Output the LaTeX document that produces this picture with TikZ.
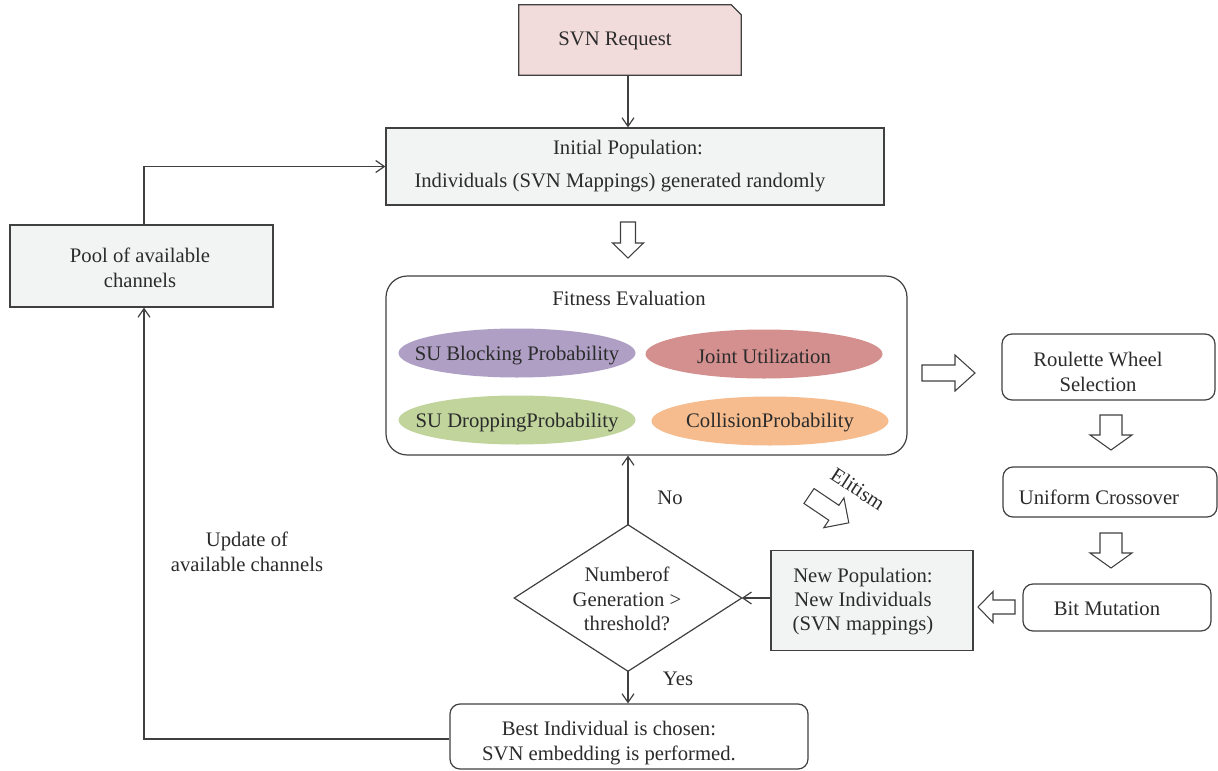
\documentclass[tikz,border=0pt]{standalone}
\usepackage{fontspec}
\setmainfont{Liberation Serif}
\usetikzlibrary{arrows.meta,backgrounds,calc,shapes.geometric}

\definecolor{linegray}{HTML}{404040}
\definecolor{textgray}{HTML}{2B2B2B}
\definecolor{boxgray}{HTML}{F2F4F3}
\definecolor{reqpink}{HTML}{F2DCDB}
\definecolor{elpurple}{HTML}{AF9FC5}
\definecolor{elred}{HTML}{D4908F}
\definecolor{elgreen}{HTML}{C0D49C}
\definecolor{elorange}{HTML}{F6BC8E}

% hollow block arrow: x, y, angle, length, shaft half-width, head half-width, head length
\newcommand\blockarrow[7]{%
  \draw[hollowarrow, shift={(#1,#2)}, rotate=#3]
    (0,-#5) -- ({#4-#7},-#5) -- ({#4-#7},-#6) -- (#4,0) -- ({#4-#7},#6) -- ({#4-#7},#5) -- (0,#5) -- cycle;}

\tikzset{
  every node/.style={text=textgray, font=\fontsize{15.5pt}{18.5pt}\selectfont},
  line/.style={draw=linegray, line width=0.9pt},
  arr/.style={line, -{Straight Barb[length=6.5pt,width=9pt]}},
  hollowarrow/.style={draw=linegray, line width=0.8pt, fill=white, line join=miter},
  graybox/.style={rectangle, line, fill=boxgray, inner sep=0pt},
  roundbox/.style={rectangle, line, fill=white, rounded corners=7.5pt, inner sep=0pt},
  crit/.style={ellipse, inner sep=0pt, minimum width=177.75pt, minimum height=36.75pt},
  txt/.style={align=center, inner sep=0pt},
}

\begin{document}
\begin{tikzpicture}[x=0.75pt, y=-0.75pt]
\useasboundingbox (0,0) rectangle (1218,771);

% request box with a cut corner
\node[rectangle, minimum width=166.5pt, minimum height=52.5pt, inner sep=0pt] (req) at (630,40) {};
\begin{scope}[on background layer]
  \draw[line, fill=reqpink] (req.south west) |- ($(req.north east)+(-10,0)$)
    -- ($(req.north east)+(0,10)$) |- cycle;
\end{scope}
\node[txt] (reqtxt) at (615,41) {SVN Request};

% initial population
\node[graybox, minimum width=373.5pt, minimum height=57.75pt] (init) at (635,166.5) {};
\node[txt] (inittxt1) at (628,150) {Initial Population:};
\node[txt] (inittxt2) at (620,183) {Individuals (SVN Mappings) generated randomly};

% fitness evaluation with its four criteria
\node[roundbox, rounded corners=16pt, minimum width=390.75pt, minimum height=134.25pt] (fit) at (646.5,365.5) {};
\node[txt] (fittxt) at (629,298) {Fitness Evaluation};
\node[crit, fill=elpurple] (sub) at (517,353) {};
\node[crit, fill=elred] (ju) at (764,354) {};
\node[crit, fill=elgreen] (sud) at (517,420) {};
\node[crit, fill=elorange] (col) at (770,421) {};
\node[txt] (subtxt) at (517,356) {SU Blocking Probability};
\node[txt] (jutxt) at (764,356) {Joint Utilization};
\node[txt] (sudtxt) at (517,423) {SU DroppingProbability};
\node[txt] (coltxt) at (770,423) {CollisionProbability};

% genetic operators
\node[roundbox, minimum width=159.75pt, minimum height=49.5pt] (rws) at (1108.5,367) {};
\node[txt] (rwstxt) at (1098,372) {Roulette Wheel\\Selection};
\node[roundbox, minimum width=160.5pt, minimum height=37.5pt] (ux) at (1110,492) {};
\node[txt] (uxtxt) at (1099,497) {Uniform Crossover};
\node[roundbox, minimum width=141pt, minimum height=35.25pt] (bm) at (1117,607.5) {};
\node[txt] (bmtxt) at (1107,609) {Bit Mutation};

% new population
\node[graybox, minimum width=151.5pt, minimum height=75pt] (newpop) at (872,600.5) {};
\node[txt, font=\fontsize{15.5pt}{18pt}\selectfont] (newpoptxt) at (863,602) {New Population:\\New Individuals\\(SVN mappings)};

% generation check
\node[rectangle, minimum width=170.25pt, minimum height=109.5pt, inner sep=0pt] (dec) at (628,598) {};
\draw[line, fill=white] (dec.north) -- (dec.east) -- (dec.south) -- (dec.west) -- cycle;
\node[txt] (dectxt) at (627,599) {Numberof\\Generation >\\threshold?};

% best individual
\node[roundbox, minimum width=268.5pt, minimum height=48.75pt] (best) at (629,736.5) {};
\node[txt] (besttxt) at (609,743) {Best Individual is chosen:\\SVN embedding is performed.};

% channel pool
\node[graybox, minimum width=197.25pt, minimum height=61.5pt] (pool) at (141.5,266) {};
\node[txt] (pooltxt) at (140,268) {Pool of available\\channels};

% labels
\node[txt] (nolbl) at (670,498) {No};
\node[txt] (yeslbl) at (678,679) {Yes};
\node[txt] (updlbl) at (247,552) {Update of\\available channels};
\node[txt, rotate=-33] (elitlbl) at (858,489) {Elitism};

% connectors
\draw[arr] (req.south -| 628,0) -- (init.north -| 628,0);
\draw[arr] (dec.east -| newpop.west) -- (dec.east);
\draw[arr] (dec.north) -- (dec.north |- fit.south);
\draw[arr] (dec.south) -- (dec.south |- best.north);
\draw[arr] (best.west |- 0,739) -| (pool.south -| 144,0);
\draw[arr] (pool.north -| 144,0) |- (init.west);

% block arrows
\blockarrow{628}{222}{-90}{36}{7.5}{15.5}{15}
\blockarrow{922}{373}{0}{53}{8}{18}{20}
\blockarrow{1111}{415}{-90}{35}{11}{21}{15}
\blockarrow{1111}{533}{-90}{35}{11}{21}{15}
\blockarrow{1015}{607}{180}{37}{7}{15.5}{15}
\blockarrow{809}{496}{-34}{48}{9}{18}{18}
\end{tikzpicture}
\end{document}
